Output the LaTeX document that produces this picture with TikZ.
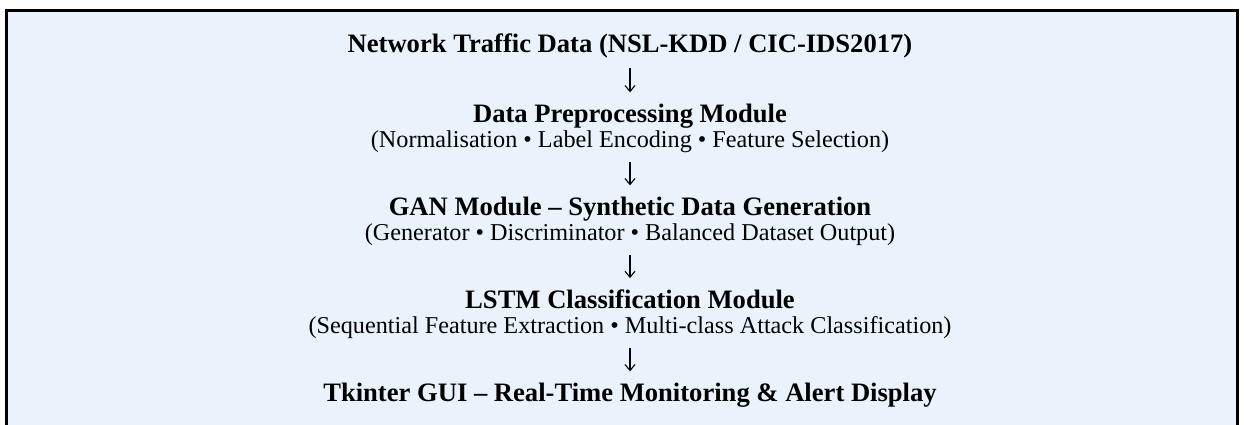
\documentclass[tikz,border=0pt]{standalone}
\usepackage{fontspec}
\setmainfont{Liberation Serif}
\usetikzlibrary{arrows.meta}
\definecolor{panelbg}{RGB}{234,243,251}
\begin{document}
\begin{tikzpicture}[x=1pt,y=-1pt]\tikzstyle{every node}=[inner sep=0pt,anchor=base]
\tikzstyle{head}=[font=\fontsize{26.6}{30}\selectfont\bfseries]
\tikzstyle{sub}=[font=\fontsize{24.2}{28}\selectfont]
\tikzstyle{flow}=[line width=1.1pt,shorten <=9pt,shorten >=11pt,-{Straight Barb[length=6pt,width=10pt]}]
\useasboundingbox (0,0) rectangle (1244,425);
\fill[panelbg] (6.5,10.5) rectangle (1237.5,425);
\draw[line width=3pt] (6.5,425) -- (6.5,10.5) -- (1237.5,10.5) -- (1237.5,425);
\node[head] at (630,52.7) (data) {Network Traffic Data (NSL-KDD / CIC-IDS2017)};
\node[head] at (630,122) (prep) {Data Preprocessing Module};
\node[sub] at (630,147.5) (prepsub) {(Normalisation • Label Encoding • Feature Selection)};
\node[head] at (630,215) (gan) {GAN Module – Synthetic Data Generation};
\node[sub] at (630,240.5) (gansub) {(Generator • Discriminator • Balanced Dataset Output)};
\node[head] at (630,308) (lstm) {LSTM Classification Module};
\node[sub] at (630,333.5) (lstmsub) {(Sequential Feature Extraction • Multi-class Attack Classification)};
\node[head] at (630,401) (gui) {Tkinter GUI – Real-Time Monitoring \& Alert Display};
\draw[flow] (data) -- (prep);
\draw[flow] (prepsub) -- (gan);
\draw[flow] (gansub) -- (lstm);
\draw[flow] (lstmsub) -- (gui);
\end{tikzpicture}
\end{document}
